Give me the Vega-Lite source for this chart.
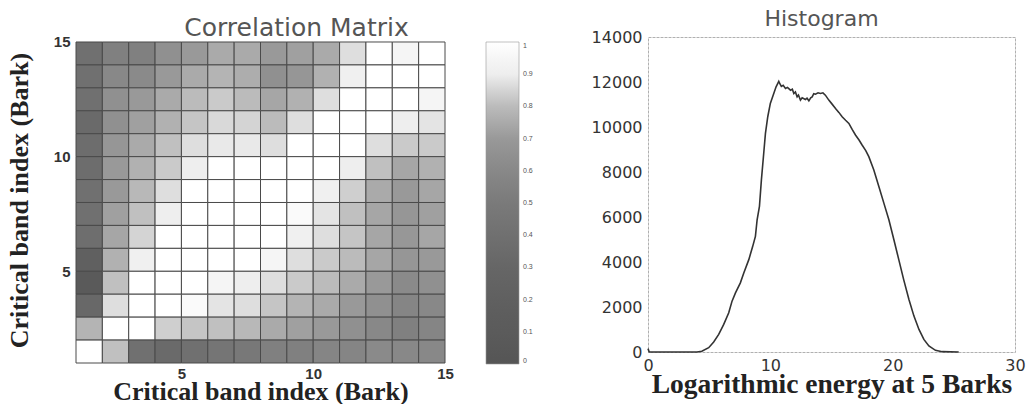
{
  "$schema": "https://vega.github.io/schema/vega-lite/v6.json",
  "background": "white",
  "padding": {"left": 6, "top": 7, "right": 0, "bottom": 0},
  "spacing": 52,
  "resolve": {"scale": {"color": "independent"}, "legend": {"color": "independent"}},
  "config": {
    "view": {"stroke": null},
    "axis": {"grid": false, "ticks": false, "domain": false, "labelFont": "Liberation Sans", "labelColor": "#333", "titleFont": "Liberation Serif", "titleFontWeight": "bold", "titleColor": "#222", "titleFontSize": 26, "labelFlush": false},
    "title": {"font": "DejaVu Sans", "fontWeight": "normal", "color": "#555"}
  },
  "hconcat": [
    {
      "width": 369,
      "height": 326,
      "title": {"text": "Correlation Matrix", "fontSize": 25, "anchor": "middle", "frame": "group", "dx": 36, "offset": -6},
      "data": {"values": [
        {"r":14,"c":1,"v":0.40},{"r":14,"c":2,"v":0.54},{"r":14,"c":3,"v":0.54},{"r":14,"c":4,"v":0.65},{"r":14,"c":5,"v":0.70},{"r":14,"c":6,"v":0.75},{"r":14,"c":7,"v":0.75},{"r":14,"c":8,"v":0.70},{"r":14,"c":9,"v":0.72},{"r":14,"c":10,"v":0.75},{"r":14,"c":11,"v":0.87},{"r":14,"c":12,"v":1.00},{"r":14,"c":13,"v":0.94},{"r":14,"c":14,"v":1.00},
        {"r":13,"c":1,"v":0.40},{"r":13,"c":2,"v":0.60},{"r":13,"c":3,"v":0.61},{"r":13,"c":4,"v":0.70},{"r":13,"c":5,"v":0.75},{"r":13,"c":6,"v":0.78},{"r":13,"c":7,"v":0.76},{"r":13,"c":8,"v":0.65},{"r":13,"c":9,"v":0.68},{"r":13,"c":10,"v":0.77},{"r":13,"c":11,"v":0.91},{"r":13,"c":12,"v":1.00},{"r":13,"c":13,"v":1.00},{"r":13,"c":14,"v":1.00},
        {"r":12,"c":1,"v":0.40},{"r":12,"c":2,"v":0.65},{"r":12,"c":3,"v":0.70},{"r":12,"c":4,"v":0.75},{"r":12,"c":5,"v":0.80},{"r":12,"c":6,"v":0.83},{"r":12,"c":7,"v":0.80},{"r":12,"c":8,"v":0.74},{"r":12,"c":9,"v":0.77},{"r":12,"c":10,"v":0.87},{"r":12,"c":11,"v":1.00},{"r":12,"c":12,"v":1.00},{"r":12,"c":13,"v":1.00},{"r":12,"c":14,"v":0.94},
        {"r":11,"c":1,"v":0.34},{"r":11,"c":2,"v":0.65},{"r":11,"c":3,"v":0.72},{"r":11,"c":4,"v":0.77},{"r":11,"c":5,"v":0.82},{"r":11,"c":6,"v":0.86},{"r":11,"c":7,"v":0.85},{"r":11,"c":8,"v":0.80},{"r":11,"c":9,"v":0.87},{"r":11,"c":10,"v":1.00},{"r":11,"c":11,"v":1.00},{"r":11,"c":12,"v":1.00},{"r":11,"c":13,"v":0.90},{"r":11,"c":14,"v":0.88},
        {"r":10,"c":1,"v":0.37},{"r":10,"c":2,"v":0.68},{"r":10,"c":3,"v":0.75},{"r":10,"c":4,"v":0.81},{"r":10,"c":5,"v":0.87},{"r":10,"c":6,"v":0.89},{"r":10,"c":7,"v":0.89},{"r":10,"c":8,"v":0.87},{"r":10,"c":9,"v":1.00},{"r":10,"c":10,"v":1.00},{"r":10,"c":11,"v":1.00},{"r":10,"c":12,"v":0.87},{"r":10,"c":13,"v":0.83},{"r":10,"c":14,"v":0.83},
        {"r":9,"c":1,"v":0.37},{"r":9,"c":2,"v":0.70},{"r":9,"c":3,"v":0.77},{"r":9,"c":4,"v":0.83},{"r":9,"c":5,"v":0.90},{"r":9,"c":6,"v":1.00},{"r":9,"c":7,"v":1.00},{"r":9,"c":8,"v":1.00},{"r":9,"c":9,"v":1.00},{"r":9,"c":10,"v":1.00},{"r":9,"c":11,"v":0.90},{"r":9,"c":12,"v":0.81},{"r":9,"c":13,"v":0.74},{"r":9,"c":14,"v":0.77},
        {"r":8,"c":1,"v":0.40},{"r":8,"c":2,"v":0.70},{"r":8,"c":3,"v":0.79},{"r":8,"c":4,"v":0.87},{"r":8,"c":5,"v":1.00},{"r":8,"c":6,"v":1.00},{"r":8,"c":7,"v":1.00},{"r":8,"c":8,"v":1.00},{"r":8,"c":9,"v":1.00},{"r":8,"c":10,"v":0.91},{"r":8,"c":11,"v":0.84},{"r":8,"c":12,"v":0.75},{"r":8,"c":13,"v":0.70},{"r":8,"c":14,"v":0.74},
        {"r":7,"c":1,"v":0.40},{"r":7,"c":2,"v":0.72},{"r":7,"c":3,"v":0.81},{"r":7,"c":4,"v":0.90},{"r":7,"c":5,"v":1.00},{"r":7,"c":6,"v":1.00},{"r":7,"c":7,"v":1.00},{"r":7,"c":8,"v":1.00},{"r":7,"c":9,"v":0.97},{"r":7,"c":10,"v":0.88},{"r":7,"c":11,"v":0.81},{"r":7,"c":12,"v":0.74},{"r":7,"c":13,"v":0.68},{"r":7,"c":14,"v":0.72},
        {"r":6,"c":1,"v":0.38},{"r":6,"c":2,"v":0.74},{"r":6,"c":3,"v":0.85},{"r":6,"c":4,"v":1.00},{"r":6,"c":5,"v":1.00},{"r":6,"c":6,"v":1.00},{"r":6,"c":7,"v":1.00},{"r":6,"c":8,"v":1.00},{"r":6,"c":9,"v":0.91},{"r":6,"c":10,"v":0.87},{"r":6,"c":11,"v":0.82},{"r":6,"c":12,"v":0.74},{"r":6,"c":13,"v":0.69},{"r":6,"c":14,"v":0.74},
        {"r":5,"c":1,"v":0.19},{"r":5,"c":2,"v":0.77},{"r":5,"c":3,"v":0.91},{"r":5,"c":4,"v":1.00},{"r":5,"c":5,"v":1.00},{"r":5,"c":6,"v":1.00},{"r":5,"c":7,"v":1.00},{"r":5,"c":8,"v":0.94},{"r":5,"c":9,"v":0.87},{"r":5,"c":10,"v":0.83},{"r":5,"c":11,"v":0.80},{"r":5,"c":12,"v":0.74},{"r":5,"c":13,"v":0.68},{"r":5,"c":14,"v":0.70},
        {"r":4,"c":1,"v":0.09},{"r":4,"c":2,"v":0.81},{"r":4,"c":3,"v":1.00},{"r":4,"c":4,"v":1.00},{"r":4,"c":5,"v":1.00},{"r":4,"c":6,"v":0.94},{"r":4,"c":7,"v":0.90},{"r":4,"c":8,"v":0.87},{"r":4,"c":9,"v":0.83},{"r":4,"c":10,"v":0.80},{"r":4,"c":11,"v":0.75},{"r":4,"c":12,"v":0.70},{"r":4,"c":13,"v":0.61},{"r":4,"c":14,"v":0.65},
        {"r":3,"c":1,"v":0.32},{"r":3,"c":2,"v":0.87},{"r":3,"c":3,"v":1.00},{"r":3,"c":4,"v":1.00},{"r":3,"c":5,"v":0.97},{"r":3,"c":6,"v":0.88},{"r":3,"c":7,"v":0.87},{"r":3,"c":8,"v":0.82},{"r":3,"c":9,"v":0.78},{"r":3,"c":10,"v":0.75},{"r":3,"c":11,"v":0.70},{"r":3,"c":12,"v":0.65},{"r":3,"c":13,"v":0.58},{"r":3,"c":14,"v":0.60},
        {"r":2,"c":1,"v":0.78},{"r":2,"c":2,"v":1.00},{"r":2,"c":3,"v":1.00},{"r":2,"c":4,"v":0.84},{"r":2,"c":5,"v":0.82},{"r":2,"c":6,"v":0.81},{"r":2,"c":7,"v":0.79},{"r":2,"c":8,"v":0.75},{"r":2,"c":9,"v":0.72},{"r":2,"c":10,"v":0.70},{"r":2,"c":11,"v":0.65},{"r":2,"c":12,"v":0.60},{"r":2,"c":13,"v":0.54},{"r":2,"c":14,"v":0.58},
        {"r":1,"c":1,"v":1.00},{"r":1,"c":2,"v":0.81},{"r":1,"c":3,"v":0.40},{"r":1,"c":4,"v":0.34},{"r":1,"c":5,"v":0.40},{"r":1,"c":6,"v":0.45},{"r":1,"c":7,"v":0.48},{"r":1,"c":8,"v":0.54},{"r":1,"c":9,"v":0.54},{"r":1,"c":10,"v":0.58},{"r":1,"c":11,"v":0.58},{"r":1,"c":12,"v":0.61},{"r":1,"c":13,"v":0.60},{"r":1,"c":14,"v":0.60}
      ]},
      "transform": [
        {"calculate": "datum.c + 1", "as": "c2"},
        {"calculate": "datum.r + 1", "as": "r2"}
      ],
      "mark": {"type": "rect", "stroke": "#4a4a4a", "strokeWidth": 1},
      "encoding": {
        "x": {"field": "c", "type": "quantitative", "scale": {"domain": [1, 15], "nice": false, "zero": false},
              "axis": {"values": [5, 10, 15], "title": "Critical band index (Bark)", "labelFontSize": 15, "labelFontWeight": "bold", "labelPadding": 3, "titlePadding": -3}},
        "x2": {"field": "c2"},
        "y": {"field": "r", "type": "quantitative", "scale": {"domain": [1, 15.218], "nice": false, "zero": false},
              "axis": {"values": [5, 10, 15], "title": "Critical band index (Bark)", "labelFontSize": 15, "labelFontWeight": "bold", "labelPadding": 6, "titlePadding": 21}},
        "y2": {"field": "r2"},
        "color": {"field": "v", "type": "quantitative",
                  "scale": {"domain": [0, 0.3, 0.5, 0.6, 0.7, 0.8, 0.9, 1], "range": ["#555555", "#666666", "#7a7a7a", "#888888", "#999999", "#bbbbbb", "#eeeeee", "#ffffff"]},
                  "legend": {"title": null, "orient": "right", "offset": 36, "padding": 5, "direction": "vertical", "gradientLength": 322, "gradientThickness": 33,
                             "gradientStrokeColor": "#999", "gradientStrokeWidth": 0.6, "values": [0, 0.1, 0.2, 0.3, 0.4, 0.5, 0.6, 0.7, 0.8, 0.9, 1],
                             "format": ".1~f", "labelFontSize": 7, "labelColor": "#555", "labelFont": "Liberation Sans", "labelOffset": 4, "labelOverlap": false}}
      }
    },
    {
      "width": 367,
      "height": 315,
      "view": {"stroke": "#b0b0b0", "strokeWidth": 1, "strokeDash": [3, 1]},
      "title": {"text": "Histogram", "fontSize": 22, "anchor": "middle", "frame": "group", "dx": -10, "offset": -2},
      "data": {"values": [
        {"x":0,"n":150},{"x":0.1,"n":0},{"x":1,"n":0},{"x":2,"n":0},{"x":3,"n":0},{"x":4,"n":0},{"x":4.4,"n":30},{"x":4.96,"n":190},{"x":5.37,"n":443},{"x":5.78,"n":783},{"x":6.19,"n":1226},{"x":6.6,"n":1743},{"x":6.87,"n":2260},{"x":7.15,"n":2629},{"x":7.55,"n":3072},{"x":7.83,"n":3515},{"x":8.24,"n":4105},{"x":8.56,"n":4696},{"x":8.78,"n":5139},{"x":8.92,"n":5878},{"x":9.11,"n":6468},{"x":9.27,"n":7650},{"x":9.46,"n":8831},{"x":9.6,"n":9717},{"x":9.79,"n":10456},{"x":10.0,"n":11046},{"x":10.28,"n":11489},{"x":10.47,"n":11785},{"x":10.69,"n":12030},{"x":10.8,"n":11900},{"x":10.9,"n":11800},{"x":11.05,"n":11850},{"x":11.24,"n":11711},{"x":11.4,"n":11760},{"x":11.65,"n":11637},{"x":11.8,"n":11680},{"x":11.92,"n":11489},{"x":12.05,"n":11560},{"x":12.19,"n":11341},{"x":12.3,"n":11420},{"x":12.46,"n":11194},{"x":12.6,"n":11300},{"x":12.87,"n":11223},{"x":13.0,"n":11280},{"x":13.15,"n":11164},{"x":13.3,"n":11300},{"x":13.42,"n":11341},{"x":13.55,"n":11480},{"x":13.69,"n":11460},{"x":13.9,"n":11520},{"x":14.1,"n":11489},{"x":14.3,"n":11520},{"x":14.5,"n":11415},{"x":14.78,"n":11194},{"x":15.0,"n":11050},{"x":15.33,"n":10825},{"x":15.6,"n":10650},{"x":15.87,"n":10456},{"x":16.15,"n":10300},{"x":16.42,"n":10160},{"x":16.7,"n":9880},{"x":16.96,"n":9643},{"x":17.25,"n":9420},{"x":17.5,"n":9200},{"x":17.8,"n":8950},{"x":18.05,"n":8683},{"x":18.46,"n":8093},{"x":18.87,"n":7354},{"x":19.28,"n":6616},{"x":19.69,"n":5878},{"x":20.1,"n":4991},{"x":20.5,"n":4105},{"x":20.9,"n":3219},{"x":21.33,"n":2333},{"x":21.74,"n":1595},{"x":22.15,"n":1004},{"x":22.55,"n":561},{"x":22.96,"n":266},{"x":23.5,"n":74},{"x":24.05,"n":15},{"x":25.4,"n":0}
      ]},
      "mark": {"type": "line", "color": "#333333", "strokeWidth": 1.6},
      "encoding": {
        "x": {"field": "x", "type": "quantitative", "scale": {"domain": [0, 30], "nice": false},
              "axis": {"values": [0, 10, 20, 30], "title": "Logarithmic energy at 5 Barks", "titleFontSize": 27.5, "labelFont": "DejaVu Sans", "labelFontSize": 16, "labelPadding": 5, "titlePadding": -3}},
        "y": {"field": "n", "type": "quantitative", "scale": {"domain": [0, 14000], "nice": false},
              "axis": {"values": [0, 2000, 4000, 6000, 8000, 10000, 12000, 14000], "format": "d", "title": null, "labelFont": "DejaVu Sans", "labelFontSize": 16, "labelPadding": 6}}
      }
    }
  ]
}
